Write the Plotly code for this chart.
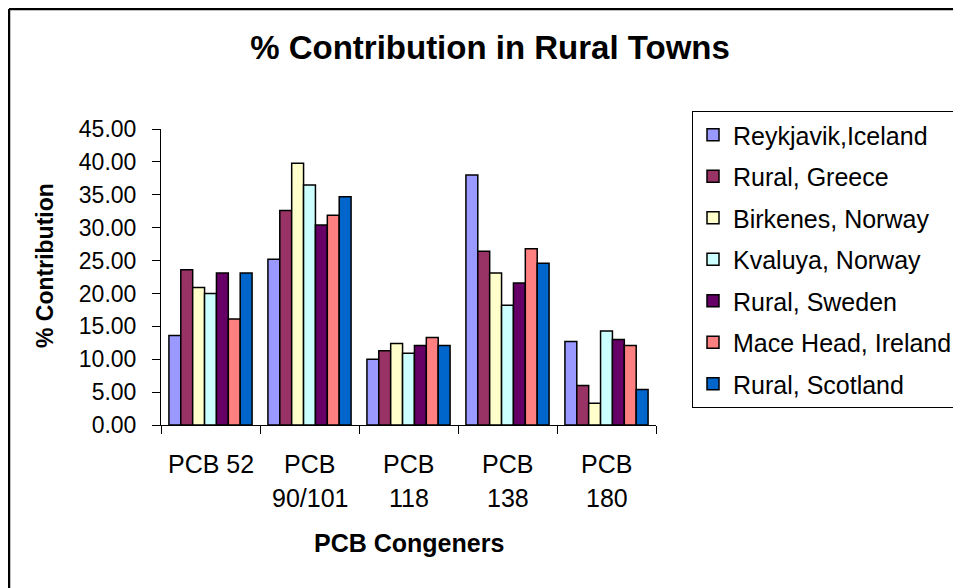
import plotly.graph_objects as go

# categories and values
congeners = ["PCB 52", "PCB 90/101", "PCB 118", "PCB 138", "PCB 180"]
label_line1 = ["PCB 52", "PCB", "PCB", "PCB", "PCB"]
label_line2 = ["", "90/101", "118", "138", "180"]

sites = [
    "Reykjavik,Iceland",
    "Rural, Greece",
    "Birkenes, Norway",
    "Kvaluya, Norway",
    "Rural, Sweden",
    "Mace Head, Ireland",
    "Rural, Scotland",
]

reykjavik = [13.6, 25.2, 10.0, 38.0, 12.7]
greece = [23.6, 32.6, 11.3, 26.4, 6.0]
birkenes = [20.9, 39.8, 12.4, 23.1, 3.3]
kvaluya = [20.0, 36.5, 10.9, 18.2, 14.3]
sweden = [23.1, 30.4, 12.1, 21.6, 13.0]
mace_head = [16.1, 31.9, 13.3, 26.8, 12.1]
scotland = [23.1, 34.7, 12.1, 24.6, 5.4]

series = [reykjavik, greece, birkenes, kvaluya, sweden, mace_head, scotland]
colors = ["#9999FF", "#993366", "#FFFFCC", "#CCFFFF", "#660066", "#FF8080", "#0066CC"]

FONT = "Liberation Sans, Arial, sans-serif"

# the page body adds an 8px margin, so the figure is 8px smaller than the window
W, H = 953, 580
L, R, T, B = 153, 648, 121, 417   # plot area in figure pixels
pw, ph = R - L, B - T


def px_x(x):
    return (x - L) / pw


def px_y(y):
    return (B - y) / ph


fig = go.Figure()
for name, vals, col in zip(sites, series, colors):
    fig.add_trace(go.Bar(
        x=congeners, y=vals, name=name, legendgroup=name,
        marker=dict(color=col, line=dict(color="black", width=1.5)),
    ))

# category labels (two lines, wide spacing like the original)
annotations = []
for cat, l1, l2 in zip(congeners, label_line1, label_line2):
    annotations.append(dict(x=cat, xref="x", y=px_y(456), yref="paper", text=l1,
                            showarrow=False, yanchor="middle",
                            font=dict(family=FONT, size=25, color="black")))
    if l2:
        annotations.append(dict(x=cat, xref="x", y=px_y(490), yref="paper", text=l2,
                                showarrow=False, yanchor="middle",
                                font=dict(family=FONT, size=25, color="black")))

# axis titles
annotations.append(dict(x=0.5, xref="paper", y=px_y(535), yref="paper", text="<b>PCB Congeners</b>",
                        showarrow=False, yanchor="middle",
                        font=dict(family=FONT, size=25, color="black")))
annotations.append(dict(x=px_x(37), xref="paper", y=px_y(258), yref="paper", text="<b>% Contribution</b>",
                        showarrow=False, textangle=-90, xanchor="center", yanchor="middle",
                        font=dict(family=FONT, size=23, color="black")))

fig.update_layout(
    width=W, height=H,
    margin=dict(l=L, r=W - R, t=T, b=H - B, autoexpand=False),
    paper_bgcolor="white", plot_bgcolor="white",
    barmode="group", bargap=0.16, bargroupgap=0,
    title=dict(text="<b>% Contribution in Rural Towns</b>", x=482 / W, xref="container",
               xanchor="center", y=1 - 39 / H, yref="container", yanchor="middle",
               font=dict(family=FONT, size=33, color="black")),
    font=dict(family=FONT, size=23, color="black"),
    showlegend=True,
    legend=dict(x=px_x(684), y=px_y(103), xanchor="left", yanchor="top",
                bgcolor="white", bordercolor="black", borderwidth=1,
                traceorder="grouped", tracegroupgap=6, maxheight=400,
                font=dict(family=FONT, size=25, color="black")),
    annotations=annotations,
    shapes=[
        # outer chart frame (left and top edges visible)
        dict(type="line", xref="paper", yref="paper",
             x0=px_x(1), x1=px_x(W + 20), y0=px_y(1), y1=px_y(1),
             line=dict(color="black", width=2.5)),
        dict(type="line", xref="paper", yref="paper",
             x0=px_x(1), x1=px_x(1), y0=px_y(1), y1=px_y(H + 20),
             line=dict(color="black", width=2.5)),
    ],
)

fig.update_xaxes(
    showline=True, linecolor="black", linewidth=1,
    ticks="outside", tickson="boundaries", ticklen=8, tickcolor="black",
    showticklabels=False, showgrid=False,
)
fig.update_yaxes(
    range=[0, 45], dtick=5, tickformat=".2f",
    showline=True, linecolor="black", linewidth=1,
    ticks="outside", ticklen=8, tickcolor="black", ticklabelstandoff=11,
    showgrid=False, zeroline=False,
    tickfont=dict(family=FONT, size=23, color="black"),
)

fig.write_html("out.html")
